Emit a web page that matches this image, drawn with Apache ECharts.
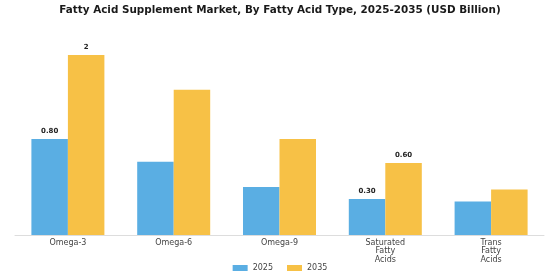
<!DOCTYPE html>
<html><head><meta charset="utf-8">
<script src="https://cdn.jsdelivr.net/npm/echarts@6/dist/echarts.min.js"></script>
<style>html,body{margin:0;padding:0;background:#fff}#c{width:560px;height:280px}</style>
</head><body><div id="c"></div>
<script>
var categories = ['Omega-3', 'Omega-6', 'Omega-9', 'Saturated\nFatty\nAcids', 'Trans\nFatty\nAcids'];
var values2025 = [0.80, 0.61, 0.40, 0.30, 0.28];
var values2035 = [1.50, 1.21, 0.80, 0.60, 0.38];
var labels2025 = ['0.80', '', '', '0.30', ''];
var labels2035 = ['2', '', '', '0.60', ''];
var seriesNames = ['2025', '2035'];

var chart = echarts.init(document.getElementById('c'), null, {renderer: 'canvas'});
function lab(arr) {
  return {show: true, position: 'top', distance: 4, fontSize: 7, fontWeight: 'bold', color: '#222',
    fontFamily: 'DejaVu Sans', formatter: function (p) { return arr[p.dataIndex]; }};
}
chart.setOption({
  animation: false,
  backgroundColor: '#fff',
  title: {text: 'Fatty Acid Supplement Market, By Fatty Acid Type, 2025-2035 (USD Billion)',
    left: 'center', top: 0,
    textStyle: {fontFamily: 'DejaVu Sans', fontSize: 10.4, fontWeight: 'bold', color: '#1a1a1a'}},
  legend: {data: seriesNames, bottom: 3, left: 'center', itemWidth: 15, itemHeight: 6, itemGap: 14,
    icon: 'rect', textStyle: {fontFamily: 'DejaVu Sans', fontSize: 8, color: '#444'}},
  grid: {left: 15, right: 16, top: 31, bottom: 45},
  xAxis: {type: 'category', data: categories,
    axisLine: {lineStyle: {color: '#ddd'}}, axisTick: {show: false},
    axisLabel: {fontFamily: 'DejaVu Sans', fontSize: 8, color: '#444', lineHeight: 8.2, margin: 4, interval: 0}},
  yAxis: {type: 'value', min: 0, max: 1.7, show: false, splitLine: {show: false}},
  series: [
    {name: seriesNames[0], type: 'bar', data: values2025, barGap: '0%', barCategoryGap: '31%',
      itemStyle: {color: '#5AAEE3'}, label: lab(labels2025)},
    {name: seriesNames[1], type: 'bar', data: values2035,
      itemStyle: {color: '#F7C146'}, label: lab(labels2035)}
  ]
});
</script></body></html>
